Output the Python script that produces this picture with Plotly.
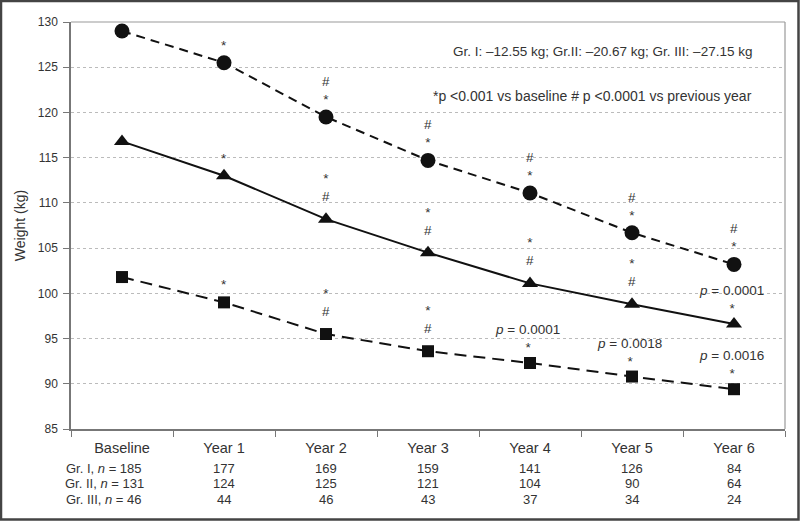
import plotly.graph_objects as go

categories = ["Baseline", "Year 1", "Year 2", "Year 3", "Year 4", "Year 5", "Year 6"]

# Weight (kg) per group
gr3_circle = [129.0, 125.5, 119.5, 114.7, 111.1, 106.7, 103.2]
gr2_triangle = [116.8, 113.0, 108.2, 104.5, 101.1, 98.8, 96.6]
gr1_square = [101.8, 99.0, 95.5, 93.6, 92.3, 90.8, 89.4]

# significance marks above each point (top line first)
marks_circle = ["", "*", "#<br>*", "#<br>*", "#<br>*", "#<br>*", "#<br>*"]
marks_triangle = ["", "*", "*<br>#", "*<br>#", "*<br>#", "*<br>#", "<i>p</i> = 0.0001<br>*"]
marks_square = ["", "*", "*<br>#", "*<br>#", "<i>p</i> = 0.0001<br>*", "<i>p</i> = 0.0018<br>*", "<i>p</i> = 0.0016<br>*"]

# numbers of patients
n_gr1 = [185, 177, 169, 159, 141, 126, 84]
n_gr2 = [131, 124, 125, 121, 104, 90, 64]
n_gr3 = [46, 44, 46, 43, 37, 34, 24]

summary_text = "Gr. I: –12.55 kg; Gr.II: –20.67 kg; Gr. III: –27.15 kg"
legend_text = "*p <0.001 vs baseline # p <0.0001 vs previous year"

FONT = "Liberation Sans, Arial, sans-serif"
TXT = "#333333"

fig = go.Figure()
fig.add_trace(go.Scatter(
    x=categories, y=gr3_circle, mode="lines+markers", name="Gr. III",
    line=dict(color="#111111", width=2, dash="9px,6px"),
    marker=dict(symbol="circle", size=15, color="#111111"),
))
fig.add_trace(go.Scatter(
    x=categories, y=gr2_triangle, mode="lines+markers", name="Gr. II",
    line=dict(color="#111111", width=2),
    marker=dict(symbol="triangle-up", size=14, color="#111111"),
))
fig.add_trace(go.Scatter(
    x=categories, y=gr1_square, mode="lines+markers", name="Gr. I",
    line=dict(color="#111111", width=2, dash="12px,7px"),
    marker=dict(symbol="square", size=12, color="#111111"),
))

annotations = []
for series, marks in ((gr3_circle, marks_circle), (gr2_triangle, marks_triangle), (gr1_square, marks_square)):
    for cat, v, m in zip(categories, series, marks):
        if not m:
            continue
        bottom = m.split("<br>")[-1]
        if "p</i>" in m:
            shift = 7
        elif bottom == "#":
            shift = 14
        else:
            shift = 9
        annotations.append(dict(
            x=cat, y=v, xref="x", yref="y", text=m, showarrow=False,
            yanchor="bottom", yshift=shift, borderpad=0, align="center",
            xshift=-3 if "p</i>" in m else 0,
            font=dict(family=FONT, size=13.5, color=TXT),
        ))

annotations.append(dict(
    x=0.9565, y=130 - 3.3, xref="paper", yref="y", text=summary_text, showarrow=False,
    xanchor="right", yanchor="middle", font=dict(family=FONT, size=13.5, color=TXT),
))
annotations.append(dict(
    x=0.9565, y=130 - 8.2, xref="paper", yref="y", text=legend_text, showarrow=False,
    xanchor="right", yanchor="middle", font=dict(family=FONT, size=14, color=TXT),
))

rows = [("Gr. I, <i>n</i> = ", n_gr1), ("Gr. II, <i>n</i> = ", n_gr2), ("Gr. III, <i>n</i> = ", n_gr3)]
for r, (label, vals) in enumerate(rows):
    for i, (cat, n) in enumerate(zip(categories, vals)):
        txt = f"{label}{n}" if i == 0 else str(n)
        annotations.append(dict(
            x=cat, y=-0.098 - r * 0.037, xref="x", yref="paper", text=txt, showarrow=False,
            xshift=-18 if i == 0 else 0, borderpad=0,
            yanchor="middle", font=dict(family=FONT, size=13, color=TXT),
        ))

W, H = 800, 521
ml, mr, mt, mb = 71, 15, 22, 92
pw, ph = W - ml - mr, H - mt - mb

shapes = [
    # outer frame
    dict(type="rect", xref="paper", yref="paper",
         x0=(-ml + 1) / pw, x1=1 + (mr - 1.5) / pw, y0=(-mb + 1.5) / ph, y1=1 + (mt - 1) / ph,
         line=dict(color="#444444", width=2.5), fillcolor="rgba(0,0,0,0)", layer="above"),
    # top and right border of plot area
    dict(type="line", xref="paper", yref="paper", x0=0, x1=1, y0=1, y1=1,
         line=dict(color="#999999", width=1.2)),
    dict(type="line", xref="paper", yref="paper", x0=1, x1=1, y0=0, y1=1,
         line=dict(color="#999999", width=1.2)),
]

fig.update_layout(
    width=W, height=H,
    margin=dict(l=ml, r=mr, t=mt, b=mb, autoexpand=False),
    paper_bgcolor="white", plot_bgcolor="white",
    showlegend=False,
    font=dict(family=FONT, color=TXT),
    annotations=annotations,
    shapes=shapes,
    xaxis=dict(
        type="category", range=[-0.5, 6.5], tickson="boundaries",
        ticks="outside", ticklen=6, tickcolor="#777777",
        showline=True, linecolor="#777777", linewidth=1.5,
        showgrid=False, zeroline=False, automargin=False, ticklabelstandoff=5,
        tickfont=dict(family=FONT, size=14.5, color=TXT),
    ),
    yaxis=dict(
        range=[85, 130], tickvals=[85, 90, 95, 100, 105, 110, 115, 120, 125, 130],
        ticks="outside", ticklen=6, tickcolor="#777777",
        showline=True, linecolor="#777777", linewidth=1.5,
        showgrid=True, gridcolor="#bbbbbb", griddash="dot", gridwidth=1,
        zeroline=False, automargin=False, ticklabelstandoff=3,
        tickfont=dict(family=FONT, size=12, color=TXT),
        title=dict(text="Weight (kg)", font=dict(family=FONT, size=14, color=TXT), standoff=9),
    ),
)

fig.write_html("out.html", config={"displayModeBar": False},
               post_script="document.body.style.margin='0';document.body.style.padding='0';")
